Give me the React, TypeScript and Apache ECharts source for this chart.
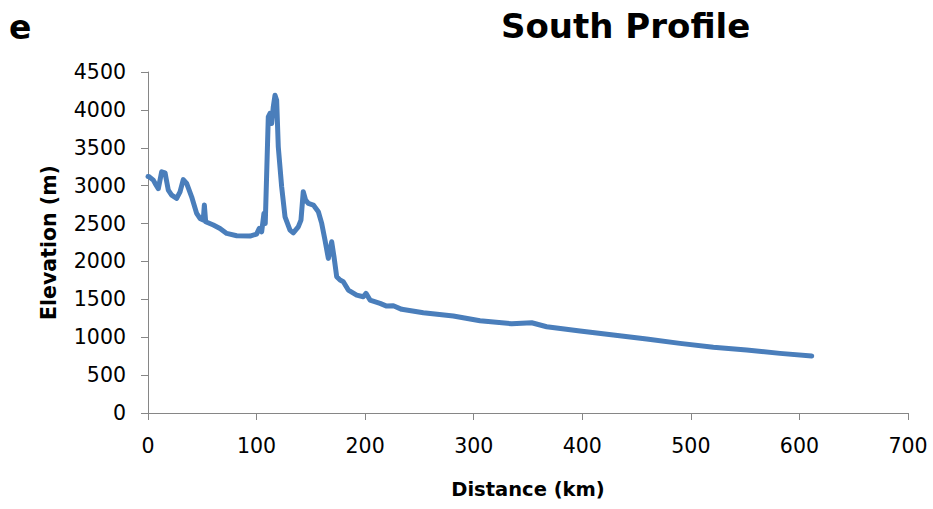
import React, { useEffect, useRef } from "react";
import * as echarts from "echarts";

const distanceKm: number[] = [
  0, 1.2, 4.9, 7, 9.5, 12.6, 15.7, 18.7, 21.8, 26.4, 29.5, 32.5, 35.6, 40.2, 44.8, 47.9, 50.9, 51.9,
  53.1, 60.2, 66.3, 72.5, 81.7, 94, 100, 102.5, 104.7, 106.8, 108, 110.8, 112.4, 113.9, 115.4, 117,
  118.5, 120, 123.1, 126.2, 130.8, 133.8, 138.4, 140.9, 143, 145.2, 147.7, 152.3, 156.9, 160, 163,
  166.1, 169.2, 171.3, 173.8, 176.9, 179.9, 184.5, 192.2, 198.3, 200.8, 204.5, 213.7, 219.8, 226,
  233.7, 253.6, 281.2, 305.8, 335, 353.4, 367.2, 397.9, 428.6, 459.3, 490, 520.7, 551.4, 582.1, 611.3,
];

const elevationM: number[] = [
  3120, 3117, 3073, 3020, 2960, 3183, 3170, 2941, 2875, 2832, 2919, 3080, 3030, 2853, 2634, 2568, 2546,
  2744, 2523, 2480, 2436, 2370, 2339, 2335, 2361, 2436, 2392, 2634, 2502, 3908, 3953, 3821, 4040, 4194,
  4128, 3512, 2985, 2589, 2414, 2378, 2457, 2546, 2919, 2809, 2766, 2744, 2655, 2502, 2282, 2040, 2259,
  2062, 1798, 1754, 1732, 1622, 1556, 1534, 1579, 1490, 1447, 1411, 1415, 1368, 1323, 1279, 1217, 1178,
  1191, 1138, 1082, 1029, 976, 919, 867, 831, 787, 752,
];

const xTicks = { min: 0, max: 700, interval: 100 };
const yTicks = { min: 0, max: 4500, interval: 500 };

const FONT = "'DejaVu Sans', sans-serif";

export default function App() {
  const ref = useRef<HTMLDivElement>(null);

  useEffect(() => {
    if (!ref.current) return;
    const chart = echarts.init(ref.current, undefined, { renderer: "svg" });
    const data = distanceKm.map((d, i) => [d, elevationM[i]]);
    chart.setOption({
      animation: false,
      backgroundColor: "#ffffff",
      title: [
        {
          text: "e",
          left: 9,
          top: 11,
          padding: 0,
          textStyle: { fontFamily: FONT, fontWeight: "bold", fontSize: 33, color: "#000" },
        },
        {
          text: "South Profile",
          left: 501,
          top: 9,
          padding: 0,
          textStyle: { fontFamily: FONT, fontWeight: "bold", fontSize: 34, color: "#000" },
        },
      ],
      grid: { left: 148, right: 25, top: 72, bottom: 96, containLabel: false },
      xAxis: {
        type: "value",
        min: xTicks.min,
        max: xTicks.max,
        interval: xTicks.interval,
        name: "Distance (km)",
        nameLocation: "middle",
        nameGap: 66,
        nameTextStyle: { fontFamily: FONT, fontWeight: "bold", fontSize: 19.5, color: "#000" },
        axisLine: { show: true, lineStyle: { color: "#868686", width: 1 } },
        axisTick: { show: true, length: 7, lineStyle: { color: "#868686" } },
        axisLabel: { fontFamily: FONT, fontSize: 20.5, color: "#000", margin: 22 },
        splitLine: { show: false },
      },
      yAxis: {
        type: "value",
        min: yTicks.min,
        max: yTicks.max,
        interval: yTicks.interval,
        name: "Elevation (m)",
        nameLocation: "middle",
        nameGap: 89,
        nameRotate: 90,
        nameTextStyle: { fontFamily: FONT, fontWeight: "bold", fontSize: 20.5, color: "#000" },
        axisLine: { show: true, lineStyle: { color: "#868686", width: 1 } },
        axisTick: { show: true, length: 7, lineStyle: { color: "#868686" } },
        axisLabel: {
          fontFamily: FONT,
          fontSize: 20.5,
          color: "#000",
          margin: 22,
          formatter: (v: number) => String(v),
        },
        splitLine: { show: false },
      },
      series: [
        {
          type: "line",
          data,
          showSymbol: false,
          symbol: "none",
          lineStyle: { color: "#4A7EBB", width: 5, join: "round", cap: "round" },
        },
      ],
    });
    return () => chart.dispose();
  }, []);

  return (
    <div
      ref={ref}
      style={{ position: "absolute", left: 0, top: 0, width: 933, height: 509 }}
    />
  );
}
